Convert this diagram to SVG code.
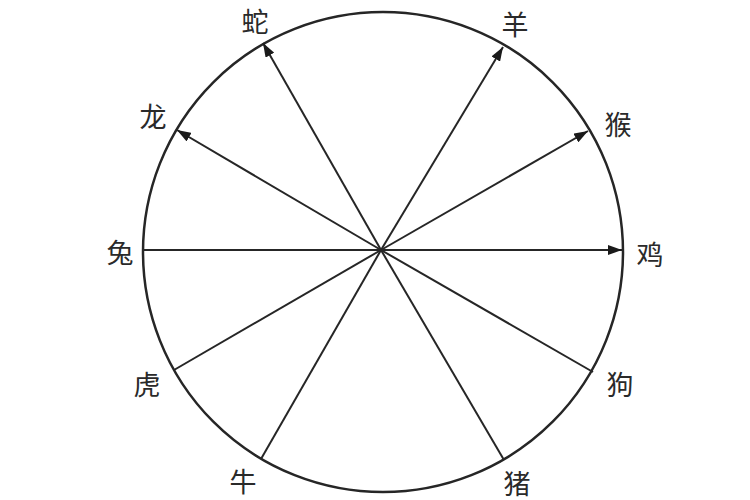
<svg xmlns="http://www.w3.org/2000/svg" width="750" height="500" viewBox="0 0 750 500">
<style>
.lbl{font-family:"Noto Sans CJK SC","Noto Sans",sans-serif;font-size:27px;fill:#2a2a2a;text-anchor:middle;dominant-baseline:central}
.ray{stroke:#262626;stroke-width:2;fill:none}
</style>
<defs>
<marker id="ah" viewBox="0 0 14 10" refX="14" refY="5" markerWidth="14" markerHeight="10" markerUnits="userSpaceOnUse" orient="auto">
<path d="M0,0 L14,5 L0,10 Z" fill="#1a1a1a"/>
</marker>
</defs>
<rect width="750" height="500" fill="#ffffff"/>
<g id="circle">
<circle cx="383" cy="252" r="240" fill="none" stroke="#262626" stroke-width="2.5"/>
</g>
<g id="connectors">
<line class="ray" x1="381" y1="250" x2="263" y2="43" marker-end="url(#ah)"/>
<line class="ray" x1="381" y1="250" x2="503" y2="47" marker-end="url(#ah)"/>
<line class="ray" x1="381" y1="250" x2="177" y2="130" marker-end="url(#ah)"/>
<line class="ray" x1="381" y1="250" x2="588" y2="131" marker-end="url(#ah)"/>
<line class="ray" x1="381" y1="250" x2="622" y2="250" marker-end="url(#ah)"/>
<line class="ray" x1="381" y1="250" x2="143" y2="250"/>
<line class="ray" x1="381" y1="250" x2="174" y2="370"/>
<line class="ray" x1="381" y1="250" x2="261" y2="459"/>
<line class="ray" x1="381" y1="250" x2="504" y2="460"/>
<line class="ray" x1="381" y1="250" x2="593" y2="372"/>
</g>
<g id="snake"><text class="lbl" x="255" y="20">蛇</text></g>
<g id="goat"><text class="lbl" x="515" y="23">羊</text></g>
<g id="dragon"><text class="lbl" x="153" y="115">龙</text></g>
<g id="monkey"><text class="lbl" x="618" y="123">猴</text></g>
<g id="rabbit"><text class="lbl" x="120" y="251">兔</text></g>
<g id="rooster"><text class="lbl" x="650" y="253">鸡</text></g>
<g id="tiger"><text class="lbl" x="147" y="383">虎</text></g>
<g id="dog"><text class="lbl" x="620" y="383">狗</text></g>
<g id="ox"><text class="lbl" x="243" y="480">牛</text></g>
<g id="pig"><text class="lbl" x="517" y="482">猪</text></g>
</svg>
